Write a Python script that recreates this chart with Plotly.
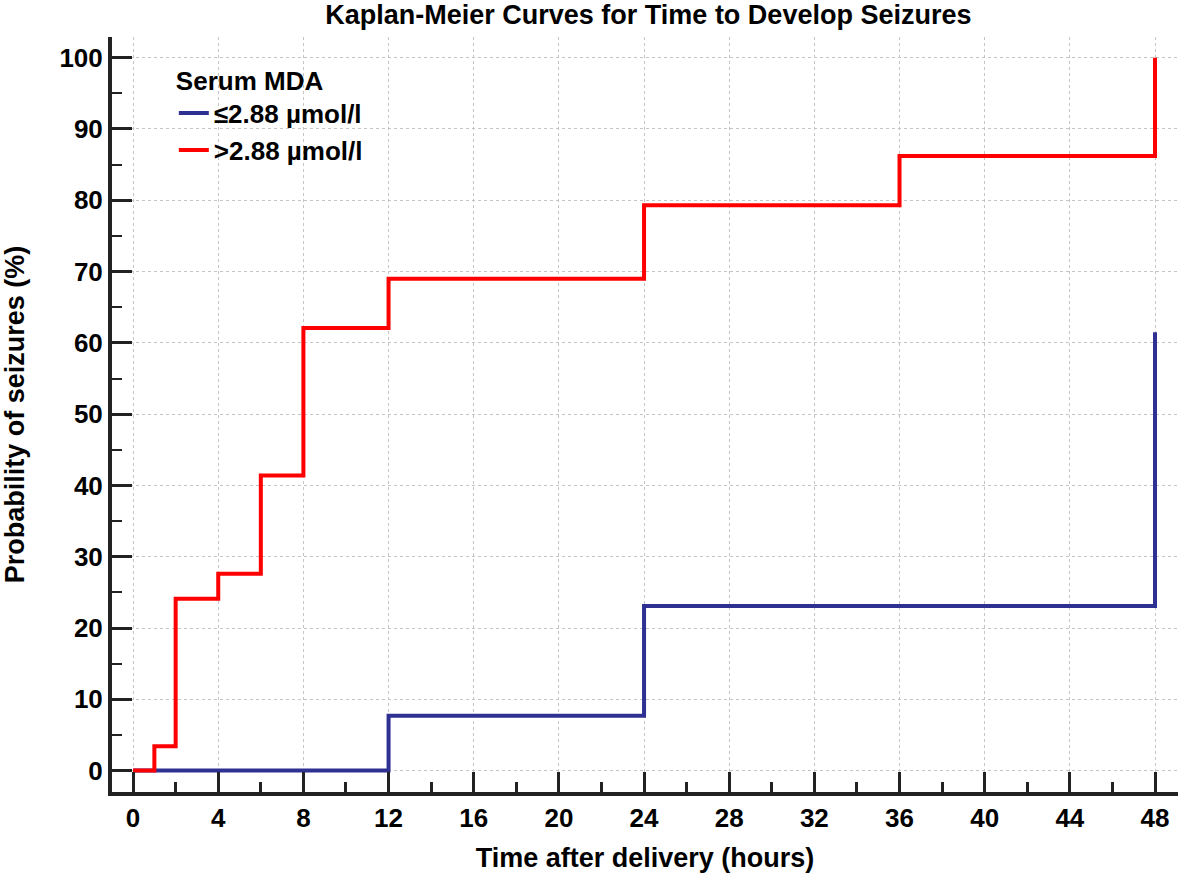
import plotly.graph_objects as go

# Kaplan-Meier step data (time in hours, cumulative probability of seizures in %)
low_time = [0, 12, 24, 48, 48]
low_prob = [0, 7.7, 23.1, 23.1, 61.5]

high_time = [0, 1, 2, 4, 6, 8, 12, 24, 36, 48, 48]
high_prob = [0, 3.4, 24.1, 27.6, 41.4, 62.1, 69.0, 79.3, 86.2, 86.2, 100]

series_names = ["≤2.88 µmol/l", ">2.88 µmol/l"]
x_ticks = [0, 4, 8, 12, 16, 20, 24, 28, 32, 36, 40, 44, 48]
y_ticks = [0, 10, 20, 30, 40, 50, 60, 70, 80, 90, 100]

FONT = "Liberation Sans, Arial, sans-serif"
FS = 26

fig = go.Figure()
fig.add_trace(go.Scatter(x=low_time, y=low_prob, mode="lines", line_shape="hv",
                         line=dict(color="#2E3192", width=4), name=series_names[0]))
fig.add_trace(go.Scatter(x=high_time, y=high_prob, mode="lines", line_shape="hv",
                         line=dict(color="#FF0000", width=4), name=series_names[1]))

axis_common = dict(
    showline=True, linewidth=4, linecolor="#222222", mirror=False,
    ticks="inside", ticklen=20, tickwidth=3, tickcolor="#222222",
    showgrid=True, gridcolor="#C4C4C4", griddash="dot", gridwidth=1,
    zeroline=False, automargin=False,
    tickfont=dict(family=FONT, size=FS, color="#000000", weight="bold"),
)

fig.update_xaxes(
    **axis_common,
    range=[-0.99, 49.08], tickvals=x_ticks,
    minor=dict(ticks="inside", ticklen=10, tickwidth=3, tickcolor="#222222", dtick=2, tick0=0, showgrid=False),
    title=dict(text="Time after delivery (hours)", standoff=17,
               font=dict(family=FONT, size=27, color="#000000", weight="bold")),
)
fig.update_yaxes(
    **axis_common,
    range=[-3.0, 102.9], tickvals=y_ticks,
    minor=dict(ticks="inside", ticklen=10, tickwidth=2, tickcolor="#222222", dtick=5, tick0=0, showgrid=False),
    title=dict(text="Probability of seizures (%)", standoff=28,
               font=dict(family=FONT, size=27, color="#000000", weight="bold")),
)

fig.update_layout(
    width=1181, height=873,
    margin=dict(l=112, r=3, t=37, b=81, autoexpand=False),
    paper_bgcolor="white", plot_bgcolor="white",
    title=dict(text="Kaplan-Meier Curves for Time to Develop Seizures",
               x=0.549, xanchor="center", y=0.983, yanchor="middle",
               font=dict(family=FONT, size=27, color="#000000", weight="bold")),
    legend=dict(
        x=0.058, y=0.975, xanchor="left", yanchor="top",
        bgcolor="rgba(0,0,0,0)",
        title=dict(text="Serum MDA", side="top",
                   font=dict(family=FONT, size=FS, color="#000000", weight="bold")),
        font=dict(family=FONT, size=FS, color="#000000", weight="bold"),
        tracegroupgap=0,
    ),
)

fig.write_html("out.html", config={"displayModeBar": False},
               post_script="document.body.style.margin='0';")
